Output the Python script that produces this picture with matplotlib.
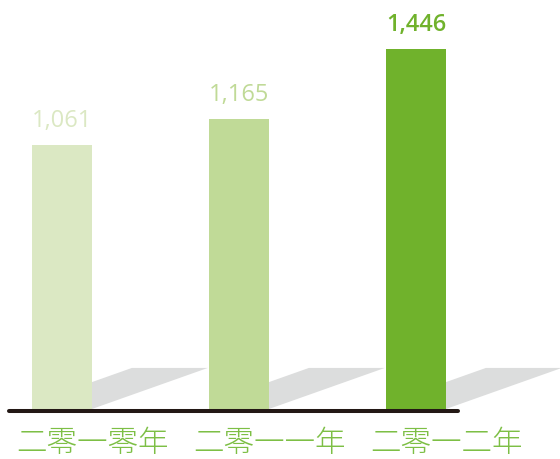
import matplotlib
matplotlib.use("Agg")
import matplotlib.pyplot as plt
from matplotlib.patches import Polygon

# data
years = ["二零一零年", "二零一一年", "二零一二年"]
values = [1061, 1165, 1446]
value_labels = ["1,061", "1,165", "1,446"]
bar_colors = ["#dbe8c3", "#c0da97", "#70b22c"]
label_weights = ["normal", "normal", "semibold"]

fig = plt.figure(figsize=(5.6, 4.59), dpi=100)
ax = fig.add_axes([0, 0, 1, 1])
ax.axis("off")
ax.set_xlim(-0.350, 2.814)
ax.set_ylim(-200.8, 1642.6)

x = list(range(len(values)))
width = 0.339

# grey shadow behind each bar
for i in x:
    xr = i + width / 2
    shadow = Polygon([(xr, 0), (xr, 108), (xr + 0.226, 165), (xr + 0.655, 165)],
                     closed=True, facecolor="#dcdddd", edgecolor="none", zorder=1)
    ax.add_patch(shadow)

ax.bar(x, values, width=width, color=bar_colors, zorder=2)

for i, v in enumerate(values):
    ax.annotate(value_labels[i], (i, v), xytext=(0, 13), textcoords="offset points",
                ha="center", va="baseline", fontsize=17, color=bar_colors[i],
                family="Open Sans", fontweight=label_weights[i])

# baseline
ax.plot([-0.30, 2.237], [-8, -8], color="#231815", lw=2.9, solid_capstyle="round", zorder=3)

for i, name in enumerate(years):
    ax.text(i + 0.175, -137, name, ha="center", va="center", fontsize=22,
            color="#7dbf45", family=["Noto Sans CJK JP", "DejaVu Sans"], fontweight=300)

fig.savefig("out.png", dpi=100)
